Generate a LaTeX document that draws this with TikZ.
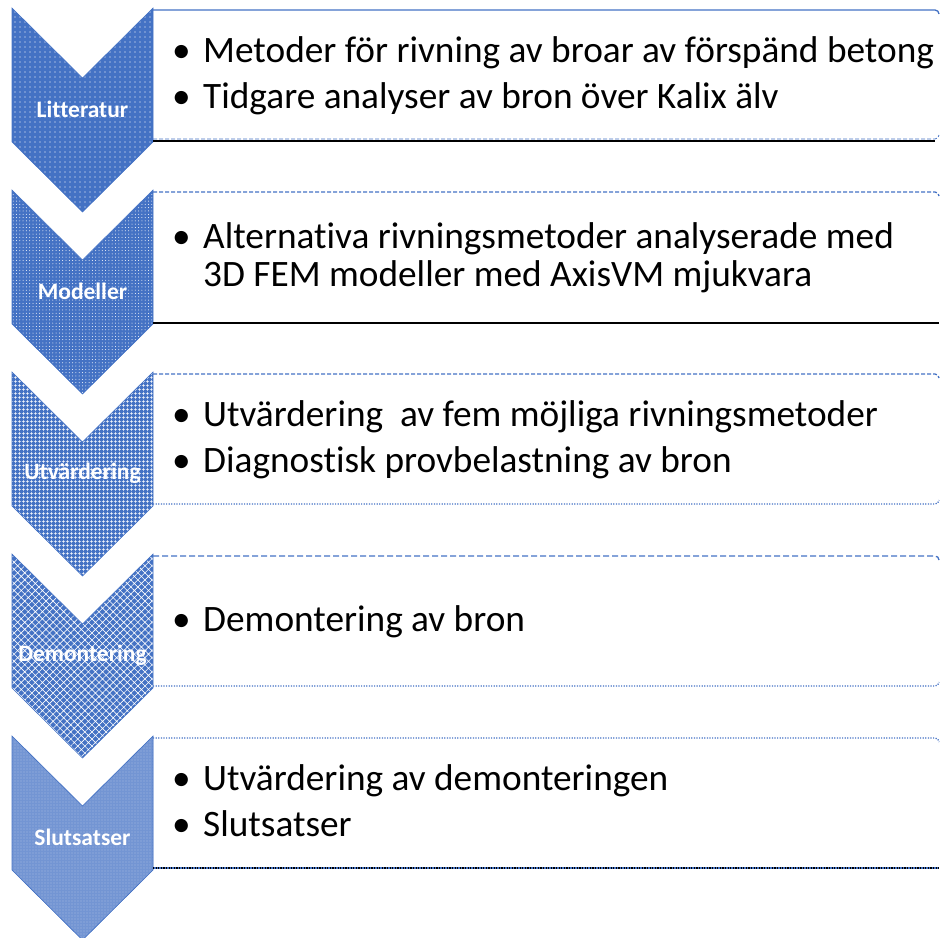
\documentclass[tikz,border=0pt]{standalone}
\usepackage{fontspec}
\setmainfont{Carlito}[Ligatures=NoCommon]
\usepackage{tikz}
\usetikzlibrary{patterns.meta}
\definecolor{chevblue}{HTML}{4472C4}
\newcommand*\bul{\makebox[31pt][l]{\textbullet}}

\begin{document}
\begin{tikzpicture}[x=1pt,y=-1pt,
  chev/.style={draw=chevblue,line width=0.6pt,preaction={fill=chevblue},pattern color=white},
  lab/.style={text=white,font=\bfseries\fontsize{23.5}{25}\selectfont,inner sep=0pt},
  txt/.style={anchor=base west,inner sep=0pt,font=\fontsize{37.3}{40}\selectfont},
  boxline/.style={draw=chevblue,line width=1.3pt,rounded corners=4pt}]
\useasboundingbox (0,0) rectangle (941,937);
% chevrons
\draw[chev,pattern={Dots[distance=5pt,radius=0.6pt]}] (12,8) -- ++(70.5,70) -- ++(70.5,-70) -- ++(0,134) -- ++(-70.5,70) -- ++(-70.5,-70) -- cycle;
\draw[chev,pattern={Dots[distance=3.3pt,radius=0.5pt]}] (12,190) -- ++(70.5,70) -- ++(70.5,-70) -- ++(0,134) -- ++(-70.5,70) -- ++(-70.5,-70) -- cycle;
\draw[chev,pattern={Hatch[distance=4pt,line width=0.4pt]}] (12,372) -- ++(70.5,70) -- ++(70.5,-70) -- ++(0,134) -- ++(-70.5,70) -- ++(-70.5,-70) -- cycle;
\draw[chev,pattern={Hatch[angle=45,distance=5pt,line width=0.6pt]}] (12,554) -- ++(70.5,70) -- ++(70.5,-70) -- ++(0,134) -- ++(-70.5,70) -- ++(-70.5,-70) -- cycle;
\draw[chev,preaction={fill=chevblue!75!white},pattern={Dots[distance=3pt,radius=0.4pt]}] (12,736) -- ++(70.5,70) -- ++(70.5,-70) -- ++(0,134) -- ++(-70.5,70) -- ++(-70.5,-70) -- cycle;
\node[lab] (litt) at (82.5,109) {Litteratur};
\node[lab] (mod) at (82.5,291) {Modeller};
\node[lab] (utv) at (82.5,473) {Utvärdering};
\node[lab] (dem) at (82.5,655) {Demontering};
\node[lab] (slut) at (82.5,837) {Slutsatser};
% box edges
\draw[boxline] (153,10) -- (939,10) -- (939,14);
\draw[black,line width=1.5pt] (153,141) -- (935,141);
\draw[boxline,line width=0.8pt,dash pattern=on 4pt off 2pt] (153,139) -- (939,139) -- (939,135);
\draw[boxline,dash pattern=on 4pt off 2pt] (153,192) -- (939,192) -- (939,196);
\draw[black,line width=1.5pt] (153,323) -- (939,323);
\draw[boxline,dash pattern=on 4pt off 2pt] (153,374) -- (939,374) -- (939,378);
\draw[boxline,dash pattern=on 1.2pt off 1.4pt] (153,504) -- (939,504) -- (939,500);
\draw[boxline,dash pattern=on 6pt off 3pt] (153,556) -- (939,556) -- (939,560);
\draw[boxline,dash pattern=on 1.2pt off 1.4pt] (153,686) -- (939,686) -- (939,682);
\draw[boxline,dash pattern=on 1.2pt off 1.4pt] (153,738) -- (939,738) -- (939,742);
\draw[chevblue,line width=1.5pt] (153,868) -- (939,868);
\draw[black,line width=1.5pt,dash pattern=on 1.2pt off 1.4pt] (153,868) -- (939,868);
% texts
\node[txt] (t1a) at (172,62) {\bul Metoder för rivning av broar av förspänd betong};
\node[txt] (t1b) at (172,108) {\bul Tidgare analyser av bron över Kalix älv};
\node[txt] (t2a) at (172,248) {\bul Alternativa rivningsmetoder analyserade med};
\node[txt] (t2b) at (203,286) {3D FEM modeller med AxisVM mjukvara};
\node[txt] (t3a) at (172,426) {\bul Utvärdering\ \ av fem möjliga rivningsmetoder};
\node[txt] (t3b) at (172,472) {\bul Diagnostisk provbelastning av bron};
\node[txt] (t4a) at (172,631) {\bul Demontering av bron};
\node[txt] (t5a) at (172,790) {\bul Utvärdering av demonteringen};
\node[txt] (t5b) at (172,836) {\bul Slutsatser};
\end{tikzpicture}
\end{document}
